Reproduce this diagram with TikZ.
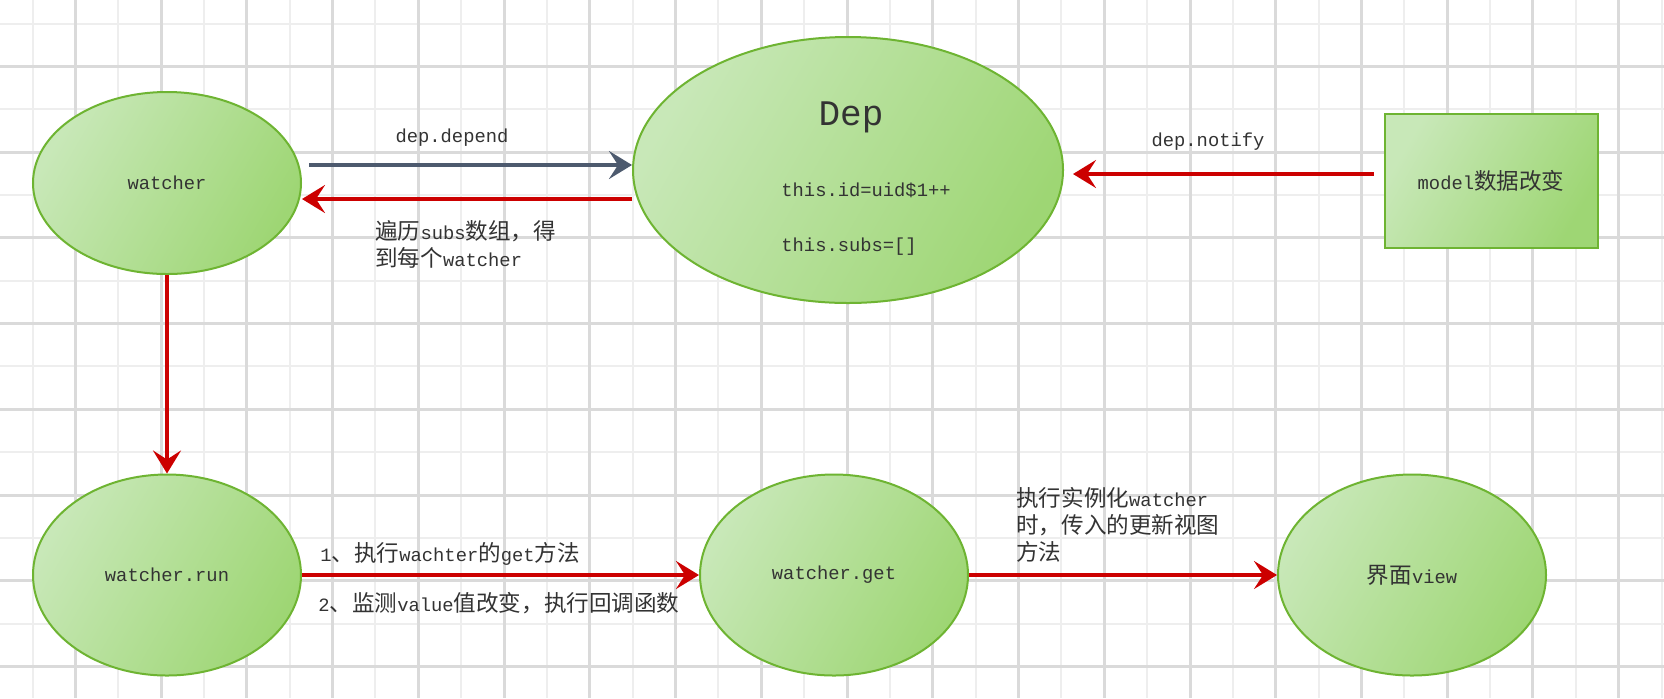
\documentclass[tikz,border=0pt]{standalone}
\usepackage{fontspec}
\setmonofont{Liberation Mono}
\newfontfamily\cjk[Scale=1.2]{Noto Sans CJK SC}
\usetikzlibrary{shapes.geometric,arrows.meta}
\definecolor{gridthin}{RGB}{238,238,238}
\definecolor{gridthick}{RGB}{218,218,218}
\definecolor{greenlight}{RGB}{200,232,184}
\definecolor{greendark}{RGB}{158,214,116}
\definecolor{greenline}{RGB}{110,180,50}
\definecolor{flowred}{RGB}{204,0,0}
\definecolor{flowslate}{RGB}{77,90,110}
\definecolor{labeltext}{RGB}{51,51,51}
\newcommand\zh[1]{{\cjk #1}}
\newcommand\lblfont{\fontsize{9.4}{13.5}\selectfont\ttfamily}
\tikzset{
  bubble/.style={ellipse, draw=greenline, line width=1pt, left color=greenlight, right color=greendark, shading angle=60, inner sep=0pt, text=labeltext, font=\lblfont},
  block/.style={rectangle, draw=greenline, line width=1pt, left color=greenlight, right color=greendark, shading angle=60, inner sep=0pt, text=labeltext, font=\lblfont},
  lbl/.style={inner sep=0pt, align=left, text=labeltext, font=\lblfont},
  flow/.style={line width=2.2pt, -{Stealth[length=11.5pt, width=14pt, inset=4.5pt]}},
}
\begin{document}
\begin{tikzpicture}[x=0.5pt, y=-0.5pt]
\path[use as bounding box, fill=white] (0,0) rectangle (1664,698);
\foreach \i in {0,2,...,38} \draw[gridthin, line width=1pt] ({32.5+42.87*\i},0) -- ({32.5+42.87*\i},698);
\foreach \i in {0,2,...,14} \draw[gridthin, line width=1pt] (0,{23.5+42.87*\i}) -- (1664,{23.5+42.87*\i});
\foreach \i in {1,3,...,37} \draw[gridthick, line width=1.5pt] ({32.5+42.87*\i},0) -- ({32.5+42.87*\i},698);
\foreach \i in {1,3,...,15} \draw[gridthick, line width=1.5pt] (0,{23.5+42.87*\i}) -- (1664,{23.5+42.87*\i});

\node[bubble, minimum width=134pt, minimum height=91pt] (watcher) at (167,183) {watcher};
\node[bubble, minimum width=215pt, minimum height=133pt] (dep) at (848,170) {};
\node[block, minimum width=106.5pt, minimum height=67pt] (model) at (1491,181) {model\zh{数据改变}};
\node[bubble, minimum width=134pt, minimum height=100.5pt] (run) at (167,575) {watcher.run};
\node[bubble, minimum width=134pt, minimum height=100.5pt] (get) at (834,575) {watcher.get};
\node[bubble, minimum width=134pt, minimum height=100.5pt] (view) at (1412,575) {\zh{界面}view};

\node[lbl, font=\fontsize{18}{20}\selectfont\ttfamily, anchor=base] (deptitle) at (851,125) {Dep};
\node[lbl, anchor=base west] (depid) at (781,196) {this.id=uid\$1++};
\node[lbl, anchor=base west] (depsubs) at (781,251) {this.subs=[]};

\coordinate (ydepend) at (0,165);
\coordinate (ysubs) at (0,199);
\coordinate (ynotify) at (0,174);
\draw[flow, flowslate, shorten <=3.5pt] (watcher.east |- ydepend) -- (dep.west |- ydepend);
\draw[flow, flowred] (dep.west |- ysubs) -- (watcher.east |- ysubs);
\draw[flow, flowred, shorten <=5pt, shorten >=4.5pt] (model.west |- ynotify) -- (dep.east |- ynotify);
\draw[flow, flowred] (watcher.south) -- (run.north);
\draw[flow, flowred] (run.east) -- (get.west);
\draw[flow, flowred] (get.east) -- (view.west);

\node[lbl, anchor=base] (lbldepend) at (452,142) {dep.depend};
\node[lbl, anchor=base west] (lblsubs) at (375,266) {\zh{遍历}subs\zh{数组，得}\\\zh{到每个}watcher};
\node[lbl, anchor=base] (lblnotify) at (1208,146) {dep.notify};
\node[lbl, anchor=base west] (lblget) at (320,561) {1\zh{、执行}wachter\zh{的}get\zh{方法}};
\node[lbl, anchor=base west] (lblcallback) at (318,611) {2\zh{、监测}value\zh{值改变，执行回调函数}};
\node[lbl, anchor=base west] (lblupdate) at (1016,560) {\zh{执行实例化}watcher\\\zh{时，传入的更新视图}\\\zh{方法}};
\end{tikzpicture}
\end{document}
